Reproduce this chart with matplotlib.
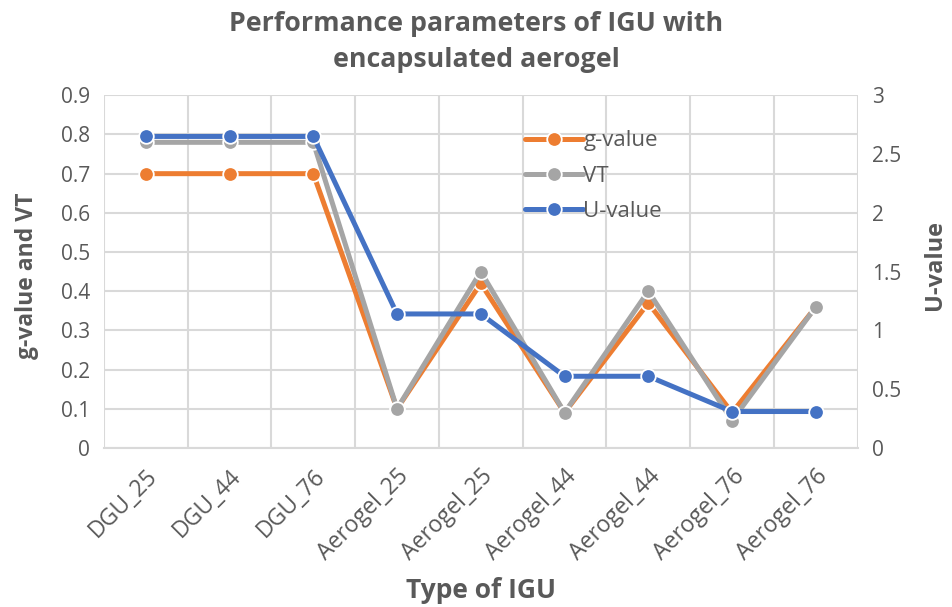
import matplotlib
matplotlib.use("Agg")
from matplotlib import pyplot as plt
from matplotlib.ticker import MultipleLocator, FixedLocator

categories = ['DGU_25', 'DGU_44', 'DGU_76', 'Aerogel_25', 'Aerogel_25',
              'Aerogel_44', 'Aerogel_44', 'Aerogel_76', 'Aerogel_76']
g_value = [0.70, 0.70, 0.70, 0.10, 0.42, 0.09, 0.37, 0.09, 0.36]
vt = [0.78, 0.78, 0.78, 0.10, 0.45, 0.09, 0.40, 0.07, 0.36]
u_value = [2.65, 2.65, 2.65, 1.14, 1.14, 0.61, 0.61, 0.31, 0.31]

text_color = '#595959'
grid_color = '#D9D9D9'
plt.rcParams['font.family'] = ['Open Sans', 'DejaVu Sans']

fig = plt.figure(figsize=(9.53, 6.07), dpi=100)
ax = fig.add_axes([0.109, 0.262, 0.791, 0.581])
ax2 = ax.twinx()

x = list(range(len(categories)))
style = dict(linewidth=3.6, marker='o', markersize=10.5, markeredgecolor='white',
             markeredgewidth=1.3, solid_capstyle='round')
l1, = ax.plot(x, g_value, color='#ED7D31', label='g-value', zorder=3, **style)
l2, = ax.plot(x, vt, color='#A5A5A5', label='VT', zorder=4, **style)
l3, = ax2.plot(x, u_value, color='#4472C4', label='U-value', zorder=5, **style)

ax.set_xlim(-0.5, len(categories) - 0.5)
ax.set_ylim(0, 0.9)
ax2.set_ylim(0, 3)
ax.yaxis.set_major_locator(MultipleLocator(0.1))
ax2.yaxis.set_major_locator(MultipleLocator(0.5))
ax.set_xticks(x)
ax.set_xticklabels(categories, rotation=45, ha='right', rotation_mode='anchor')
ax.xaxis.set_minor_locator(FixedLocator([i - 0.5 for i in range(len(categories) + 1)]))

ax.grid(True, which='major', axis='y', color=grid_color, linewidth=1.5, zorder=0)
ax.grid(True, which='minor', axis='x', color=grid_color, linewidth=1.5, zorder=0)
ax.set_axisbelow(True)

for a in (ax, ax2):
    for s in a.spines.values():
        s.set_visible(False)
    a.tick_params(which='both', length=0, labelsize=15, labelcolor=text_color, pad=10)
ax.tick_params(axis='x', labelsize=16.5, pad=12)
ax.spines['bottom'].set_visible(True)
ax.spines['bottom'].set_color(grid_color)
ax.spines['bottom'].set_linewidth(1.5)

fmt = lambda v, p: ('%g' % round(v, 2))
ax.yaxis.set_major_formatter(fmt)
ax2.yaxis.set_major_formatter(fmt)

ax.set_ylabel('g-value and VT', fontsize=16.5, fontweight='bold', color=text_color)
ax.yaxis.set_label_coords(-0.086, 0.487)
ax2.set_ylabel('U-value', fontsize=17, fontweight='bold', color=text_color)
ax2.yaxis.set_label_coords(1.086, 0.518)
ax.set_xlabel('Type of IGU', fontsize=19, fontweight='bold', color=text_color)
ax.xaxis.set_label_coords(0.5, -0.365)
fig.suptitle('Performance parameters of IGU with\nencapsulated aerogel', fontsize=19.3,
             fontweight='bold', color=text_color, y=0.982, linespacing=1.5)

fig.legend(handles=[l1, l2, l3], loc='upper left', bbox_to_anchor=(0.542, 0.80),
           frameon=False, fontsize=16, handlelength=2.6, handletextpad=0.0,
           labelspacing=0.65, labelcolor=text_color, borderaxespad=0)

plt.savefig('out.png', dpi=100)
